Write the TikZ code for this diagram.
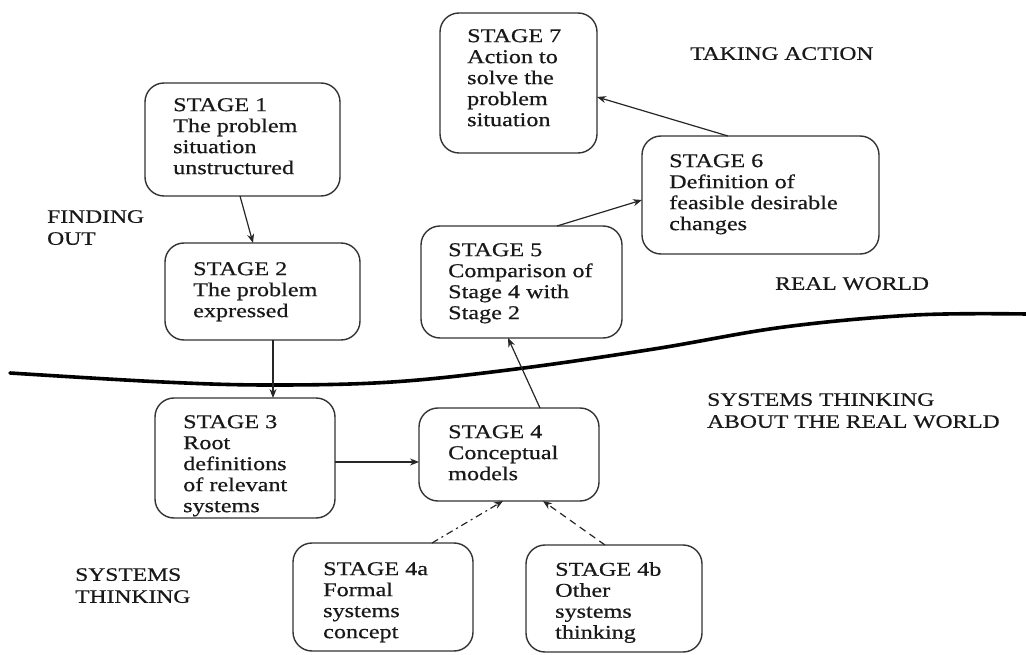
\documentclass[tikz,border=0pt]{standalone}
\usepackage{fontspec}
\setmainfont[FakeStretch=1.24,FakeBold=0.6]{Liberation Serif}
\usetikzlibrary{arrows.meta}
\begin{document}
\begin{tikzpicture}[x=1pt,y=-1pt,
  stagebox/.style={draw=black!80, line width=1.4pt, rounded corners=19pt,
    inner sep=0pt, outer sep=0pt, anchor=north west},
  stagetext/.style={anchor=north west, inner sep=0pt, align=left,
    font=\fontsize{19.5}{21}\selectfont, text=black!90},
  zonetext/.style={anchor=north west, inner sep=0pt, align=left,
    font=\fontsize{19}{22}\selectfont, text=black!90},
  arr/.style={draw=black!85, line width=1.2pt, -{Stealth[length=9pt,width=7pt]}},
]
\useasboundingbox (0,0) rectangle (1026,655);

% boundary between the real world and systems thinking
\draw[line width=3.6pt, line cap=round] plot[smooth, tension=0.6] coordinates
  {(10,373) (163,382) (271,385) (392,382) (516,369) (654,349) (784,327) (915,315) (1026,314)};

% stage boxes
\node[stagebox, minimum width=195pt, minimum height=113pt] (s1) at (145,83) {};
\node[stagebox, minimum width=195pt, minimum height=97pt]  (s2) at (165,243) {};
\node[stagebox, minimum width=180pt, minimum height=120pt] (s3) at (155,398) {};
\node[stagebox, minimum width=180pt, minimum height=93pt]  (s4) at (419,408) {};
\node[stagebox, minimum width=180pt, minimum height=108pt] (s4a) at (293,543) {};
\node[stagebox, minimum width=176pt, minimum height=107pt] (s4b) at (526,545) {};
\node[stagebox, minimum width=201pt, minimum height=112pt] (s5) at (421,226) {};
\node[stagebox, minimum width=237pt, minimum height=118pt] (s6) at (642,136) {};
\node[stagebox, minimum width=157pt, minimum height=140pt] (s7) at (440,13) {};

% stage texts
\node[stagetext] (t1) at (173,98) {STAGE 1\\The problem\\situation\\unstructured};
\node[stagetext] (t2) at (193,262) {STAGE 2\\The problem\\expressed};
\node[stagetext] (t3) at (183,415) {STAGE 3\\Root\\definitions\\of relevant\\systems};
\node[stagetext] (t4) at (448,425) {STAGE 4\\Conceptual\\models};
\node[stagetext] (t4a) at (323,562) {STAGE 4a\\Formal\\systems\\concept};
\node[stagetext] (t4b) at (555,562) {STAGE 4b\\Other\\systems\\thinking};
\node[stagetext] (t5) at (448,243) {STAGE 5\\Comparison of\\Stage 4 with\\Stage 2};
\node[stagetext] (t6) at (669,154) {STAGE 6\\Definition of\\feasible desirable\\changes};
\node[stagetext] (t7) at (467,29) {STAGE 7\\Action to\\solve the\\problem\\situation};

% zone labels
\node[zonetext] (finding) at (47,210) {FINDING\\OUT};
\node[zonetext] (action) at (690,47) {TAKING ACTION};
\node[zonetext] (real) at (775,277) {REAL WORLD};
\node[zonetext] (stw) at (707,393) {SYSTEMS THINKING\\ABOUT THE REAL WORLD};
\node[zonetext] (st) at (75,568) {SYSTEMS\\THINKING};

% connectors
\draw[arr] ([xshift=-2.5pt]s1.south) -- ([xshift=-9.5pt]s2.north);
\draw[arr] ([xshift=10.5pt]s2.south) -- ([xshift=28pt]s3.north);
\draw[arr] ([yshift=-4pt]s3.east) -- ([yshift=-7.5pt]s4.west);
\draw[arr] ([xshift=31pt]s4.north) -- ([xshift=-13.5pt]s5.south);
\draw[arr] ([xshift=35.5pt]s5.north) -- ([yshift=-5pt]s6.west);
\draw[arr] ([xshift=-32.5pt]s6.north) -- ([yshift=-14pt]s7.east);
\draw[arr, dash pattern=on 7pt off 4pt on 2pt off 4pt] ([xshift=49pt]s4a.north) -- ([xshift=-6pt]s4.south);
\draw[arr, dash pattern=on 7pt off 5pt] ([xshift=-9pt]s4b.north) -- ([xshift=34pt]s4.south);
\end{tikzpicture}
\end{document}
